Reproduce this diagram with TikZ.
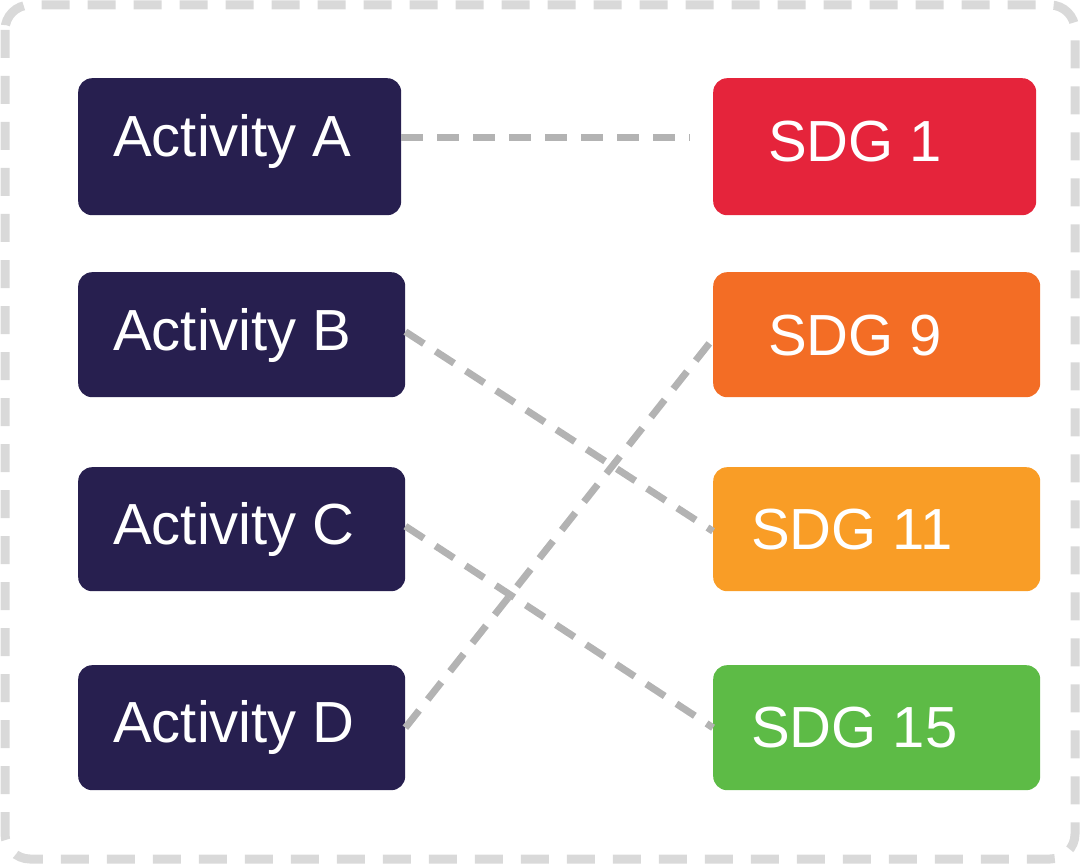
\documentclass[tikz,border=0pt]{standalone}
\usepackage{fontspec}
\setmainfont{Liberation Sans}
\definecolor{navy}{HTML}{271F4F}
\definecolor{sdgA}{HTML}{E5243B}
\definecolor{sdgB}{HTML}{F36D25}
\definecolor{sdgC}{HTML}{F99D26}
\definecolor{sdgD}{HTML}{5DBB46}
\definecolor{ln}{HTML}{B3B3B3}
\definecolor{frame}{HTML}{D9D9D9}
\begin{document}
\begin{tikzpicture}[x=1pt,y=-1pt,
  box/.style={rounded corners=14pt,inner sep=0pt,anchor=north west,text=white,font=\fontsize{58}{60}\selectfont},
  link/.style={draw=ln,line width=7pt,dash pattern=on 22pt off 14pt}]
\useasboundingbox (0,0) rectangle (1080,864);
\draw[frame,line width=9pt,dash pattern=on 28pt off 18pt,rounded corners=25pt] (5,5) rectangle (1075,859);
\node[box,fill=navy,minimum width=323pt,minimum height=137pt] (a) at (78,78) {};
\node[box,fill=navy,minimum width=327pt,minimum height=125pt] (b) at (78,272) {};
\node[box,fill=navy,minimum width=327pt,minimum height=124pt] (c) at (78,467) {};
\node[box,fill=navy,minimum width=327pt,minimum height=125pt] (d) at (78,665) {};
\node[box,fill=sdgA,minimum width=323pt,minimum height=137pt] (s1) at (713,78) {};
\node[box,fill=sdgB,minimum width=327pt,minimum height=125pt] (s9) at (713,272) {};
\node[box,fill=sdgC,minimum width=327pt,minimum height=124pt] (s11) at (713,467) {};
\node[box,fill=sdgD,minimum width=327pt,minimum height=125pt] (s15) at (713,665) {};
\node[box,anchor=west] (ta) at (113,142) {Activity A};
\node[box,anchor=west] (tb) at (113,336) {Activity B};
\node[box,anchor=west] (tc) at (113,530) {Activity C};
\node[box,anchor=west] (td) at (113,728) {Activity D};
\node[box,anchor=west] (t1) at (768,142) {SDG 1};
\node[box,anchor=west] (t9) at (768,336) {SDG 9};
\node[box,anchor=west] (t11) at (751,530) {SDG 11};
\node[box,anchor=west] (t15) at (751,728) {SDG 15};
\draw[link] (a.east |- 0,138) -- ([xshift=-23pt]s1.west |- 0,138);
\draw[link] ([yshift=3pt]b.east) -- ([yshift=-2pt]s11.west);
\draw[link] ([yshift=3pt]c.east) -- (s15.west);
\draw[link] (d.east) -- ([yshift=-4pt]s9.west);
\end{tikzpicture}
\end{document}
